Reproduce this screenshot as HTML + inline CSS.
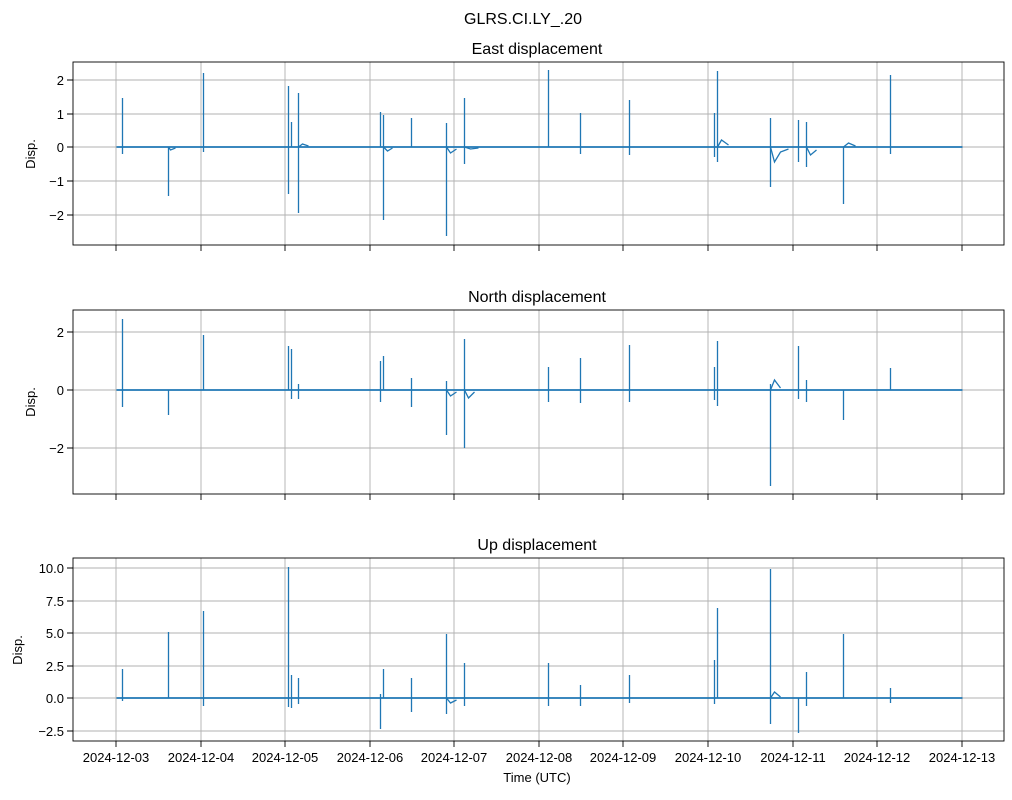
<!DOCTYPE html>
<html><head><meta charset="utf-8"><style>
body{margin:0;background:#fff;}
svg text{font-family:"Liberation Sans",sans-serif;fill:#000;}
</style></head><body>
<svg width="1012" height="795" viewBox="0 0 1012 795" xmlns="http://www.w3.org/2000/svg">
<rect width="1012" height="795" fill="#fff"/>
<text x="523" y="24" font-size="16" text-anchor="middle">GLRS.CI.LY_.20</text>

<g stroke="#b0b0b0" stroke-width="0.9">
<path d="M116 62V245M201 62V245M285 62V245M370 62V245M454 62V245M539 62V245M623 62V245M708 62V245M793 62V245M877 62V245M962 62V245"/>
<path d="M73 80H1004M73 114H1004M73 147H1004M73 181H1004M73 215H1004"/>
<path d="M116 310V494M201 310V494M285 310V494M370 310V494M454 310V494M539 310V494M623 310V494M708 310V494M793 310V494M877 310V494M962 310V494"/>
<path d="M73 332H1004M73 390H1004M73 448H1004"/>
<path d="M116 558V741M201 558V741M285 558V741M370 558V741M454 558V741M539 558V741M623 558V741M708 558V741M793 558V741M877 558V741M962 558V741"/>
<path d="M73 568H1004M73 601H1004M73 633H1004M73 666H1004M73 698H1004M73 731H1004"/>
</g>

<g stroke="#1f77b4" stroke-width="1.3" fill="none" transform="translate(0.5,0)">
<path d="M116 147H962" stroke-width="1.8"/>
<path d="M122 98V154M168 147V196M203 73V152M288 86V194M291 122V147M298 93V213M380 112V147M383 115V220M411 118V147M446 123V236M464 98V164M548 70V147M580 113V154M629 100V155M714 113V157M717 71V162M770 118V187M798 120V162M806 122V167M843 147V204M890 75V154"/>
<path d="M168 147L170 150L175 148M298 147L302 144L308 146M383 147L387 151L392 148M446 147L450 153L456 149M464 147L470 149L478 148M717 147L721 140L728 145M770 147L774 162L780 152L788 149M806 147L810 155L816 150M843 147L848 143L855 146"/>
<path d="M116 390H962" stroke-width="1.8"/>
<path d="M122 319V407M168 390V415M203 335V390M288 346V390M291 349V399M298 384V399M380 361V402M383 356V390M411 378V407M446 381V435M464 339V448M548 367V402M580 358V403M629 345V402M714 367V400M717 341V406M770 384V486M798 346V399M806 380V402M843 390V420M890 368V390"/>
<path d="M446 390L450 396L456 392M464 390L468 398L474 392M770 390L774 380L780 388"/>
<path d="M116 698H962" stroke-width="1.8"/>
<path d="M122 669V701M168 632V698M203 611V706M288 567V707M291 675V708M298 678V704M380 694V729M383 669V698M411 678V712M446 634V714M464 663V706M548 663V706M580 685V706M629 675V703M714 660V704M717 608V698M770 569V724M798 698V733M806 672V706M843 634V698M890 688V703"/>
<path d="M446 698L450 703L456 700M770 698L774 692L780 697"/>
</g>

<g fill="none" stroke="#000" stroke-width="0.9">
<rect x="73" y="62" width="931" height="183"/>
<rect x="73" y="310" width="931" height="184"/>
<rect x="73" y="558" width="931" height="183"/>
<path d="M67 80H73M67 114H73M67 147H73M67 181H73M67 215H73M67 332H73M67 390H73M67 448H73M67 568H73M67 601H73M67 633H73M67 666H73M67 698H73M67 731H73"/>
<path d="M116 245v6M201 245v6M285 245v6M370 245v6M454 245v6M539 245v6M623 245v6M708 245v6M793 245v6M877 245v6M962 245v6"/>
<path d="M116 494v6M201 494v6M285 494v6M370 494v6M454 494v6M539 494v6M623 494v6M708 494v6M793 494v6M877 494v6M962 494v6"/>
<path d="M116 741v6M201 741v6M285 741v6M370 741v6M454 741v6M539 741v6M623 741v6M708 741v6M793 741v6M877 741v6M962 741v6"/>
</g>

<text x="537" y="54" font-size="16" text-anchor="middle">East displacement</text>
<text x="537" y="302" font-size="16" text-anchor="middle">North displacement</text>
<text x="537" y="550" font-size="16" text-anchor="middle">Up displacement</text>

<g font-size="13" text-anchor="end">
<text x="64" y="85">2</text><text x="64" y="119">1</text><text x="64" y="152">0</text><text x="64" y="186">−1</text><text x="64" y="220">−2</text>
<text x="64" y="337">2</text><text x="64" y="395">0</text><text x="64" y="453">−2</text>
<text x="64" y="573">10.0</text><text x="64" y="606">7.5</text><text x="64" y="638">5.0</text><text x="64" y="671">2.5</text><text x="64" y="703">0.0</text><text x="64" y="736">−2.5</text>
</g>
<g font-size="13">
<text transform="translate(35,154) rotate(-90)" text-anchor="middle">Disp.</text>
<text transform="translate(35,402) rotate(-90)" text-anchor="middle">Disp.</text>
<text transform="translate(22,650) rotate(-90)" text-anchor="middle">Disp.</text>
</g>
<g font-size="13" text-anchor="middle">
<text x="116" y="762">2024-12-03</text><text x="201" y="762">2024-12-04</text><text x="285" y="762">2024-12-05</text><text x="370" y="762">2024-12-06</text><text x="454" y="762">2024-12-07</text><text x="539" y="762">2024-12-08</text><text x="623" y="762">2024-12-09</text><text x="708" y="762">2024-12-10</text><text x="793" y="762">2024-12-11</text><text x="877" y="762">2024-12-12</text><text x="962" y="762">2024-12-13</text>
<text x="537" y="782">Time (UTC)</text>
</g>
</svg>
</body></html>
